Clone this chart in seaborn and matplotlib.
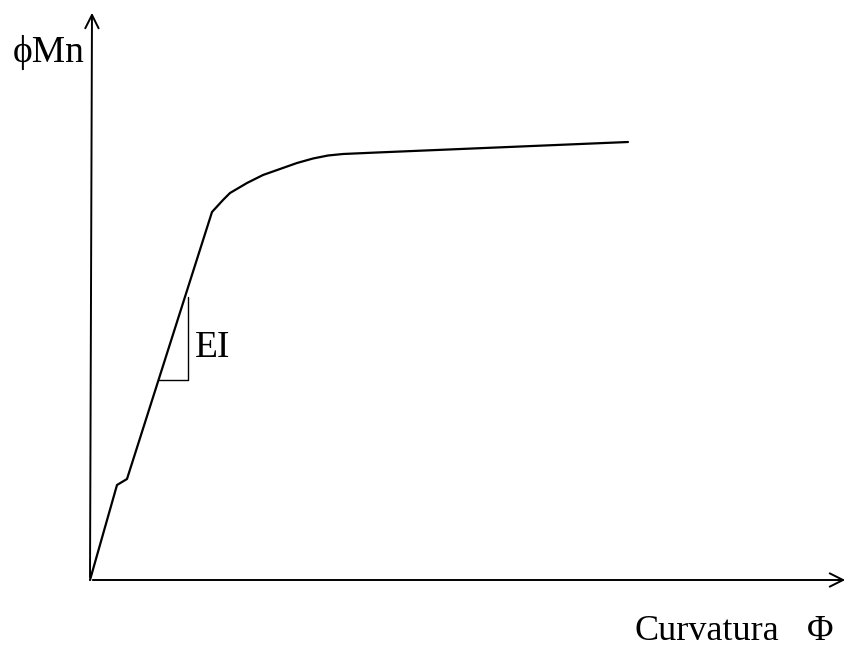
import numpy as np
import pandas as pd
import seaborn as sns
import matplotlib.pyplot as plt

# Moment-curvature curve (arbitrary units)
curvatura = [0.0, 2.7, 3.7, 12.2, 13.3, 14.0, 15.7, 17.3, 19.0, 20.7, 22.3, 23.8, 25.3, 28.7, 53.8]
momento = [0.0, 9.5, 10.1, 36.8, 38.0, 38.7, 39.7, 40.5, 41.1, 41.7, 42.15, 42.45, 42.6, 42.75, 43.8]

# EI slope triangle corners
tri_x = [6.9, 9.8, 9.8]
tri_y = [20.0, 20.0, 28.3]

df = pd.DataFrame({"curvatura": curvatura, "momento": momento})

sns.set_theme(style="white")
plt.rcParams["font.family"] = ["Liberation Serif", "DejaVu Serif"]
plt.rcParams["text.color"] = "black"

fig = plt.figure(figsize=(8.49, 6.5), dpi=100)
ax = fig.add_axes([0, 0, 1, 1])

sns.lineplot(data=df, x="curvatura", y="momento", sort=False,
             color="black", linewidth=1.6, ax=ax)
ax.plot(tri_x, tri_y, color="black", linewidth=1.0)

# axes with arrows
ax.annotate("", xy=(75.8, 0), xytext=(0, 0),
            arrowprops=dict(arrowstyle="->", color="black", lw=1.4,
                            mutation_scale=24))
ax.annotate("", xy=(0.2, 57.0), xytext=(0, 0),
            arrowprops=dict(arrowstyle="->", color="black", lw=1.4,
                            mutation_scale=24))

ax.text(10.5, 23.2, "EI", fontsize=27, ha="left", va="center")
ax.text(-7.7, 52.7, "ϕMn", fontsize=27, ha="left", va="center")
ax.text(54.5, -5.2, "Curvatura", fontsize=26, ha="left", va="center")
ax.text(71.7, -5.2, "Φ", fontsize=26, ha="left", va="center")

ax.set_xlim(-9, 75.9)
ax.set_ylim(-7, 58)
ax.axis("off")

plt.savefig("out.png", dpi=100)
